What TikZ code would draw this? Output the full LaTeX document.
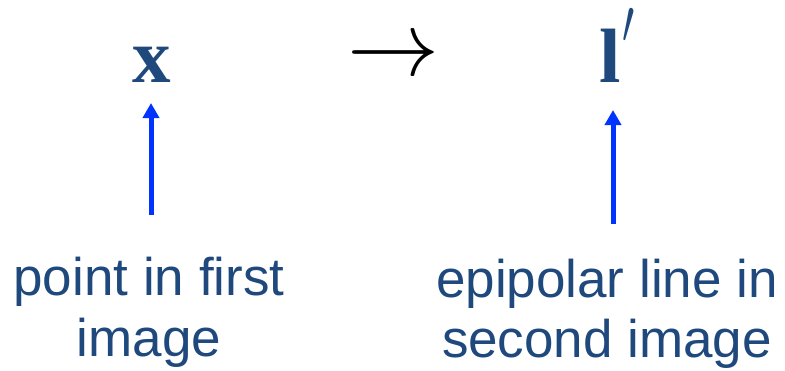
\documentclass[tikz,border=0pt]{standalone}
\usepackage{fontspec}
\setmainfont{Liberation Sans}
\newfontfamily\timesf{Liberation Serif}
\usetikzlibrary{arrows.meta}
\definecolor{textblue}{RGB}{31,73,125}
\definecolor{arrowblue}{RGB}{0,51,255}
\tikzset{
  lbl/.style={anchor=base, inner sep=0pt, text=textblue, font=\fontsize{53}{55}\selectfont},
  sym/.style={anchor=base, inner sep=0pt, text=textblue, font=\fontsize{77}{77}\selectfont\timesf\bfseries},
  uparrow/.style={draw=arrowblue, line width=5pt, -{Triangle[width=16pt,length=15pt]}}
}
\begin{document}
\begin{tikzpicture}[x=1pt,y=-1pt]
\useasboundingbox (0,0) rectangle (785,370);
\node[sym] (x) at (152,82) {x};
\node[sym] (l) at (610,82) {l};
\node[anchor=center, inner sep=0pt, text=textblue] (prime) at (628,26) {\resizebox*{12pt}{35pt}{$\prime$}};
\node[anchor=center, inner sep=0pt] (maps) at (393,59) {\resizebox{92pt}{!}{$\rightarrow$}};
\coordinate (a1s) at (151,215);
\coordinate (a1e) at (151,103);
\coordinate (a2s) at (613,224);
\coordinate (a2e) at (613,110);
\draw[uparrow] (a1s) -- (a1e);
\draw[uparrow] (a2s) -- (a2e);
\node[lbl] (t1a) at (149,295) {point in first};
\node[lbl] (t1b) at (149,356) {image};
\node[lbl] (t2a) at (607,297) {epipolar line in};
\node[lbl] (t2b) at (607,357) {second image};
\end{tikzpicture}
\end{document}
